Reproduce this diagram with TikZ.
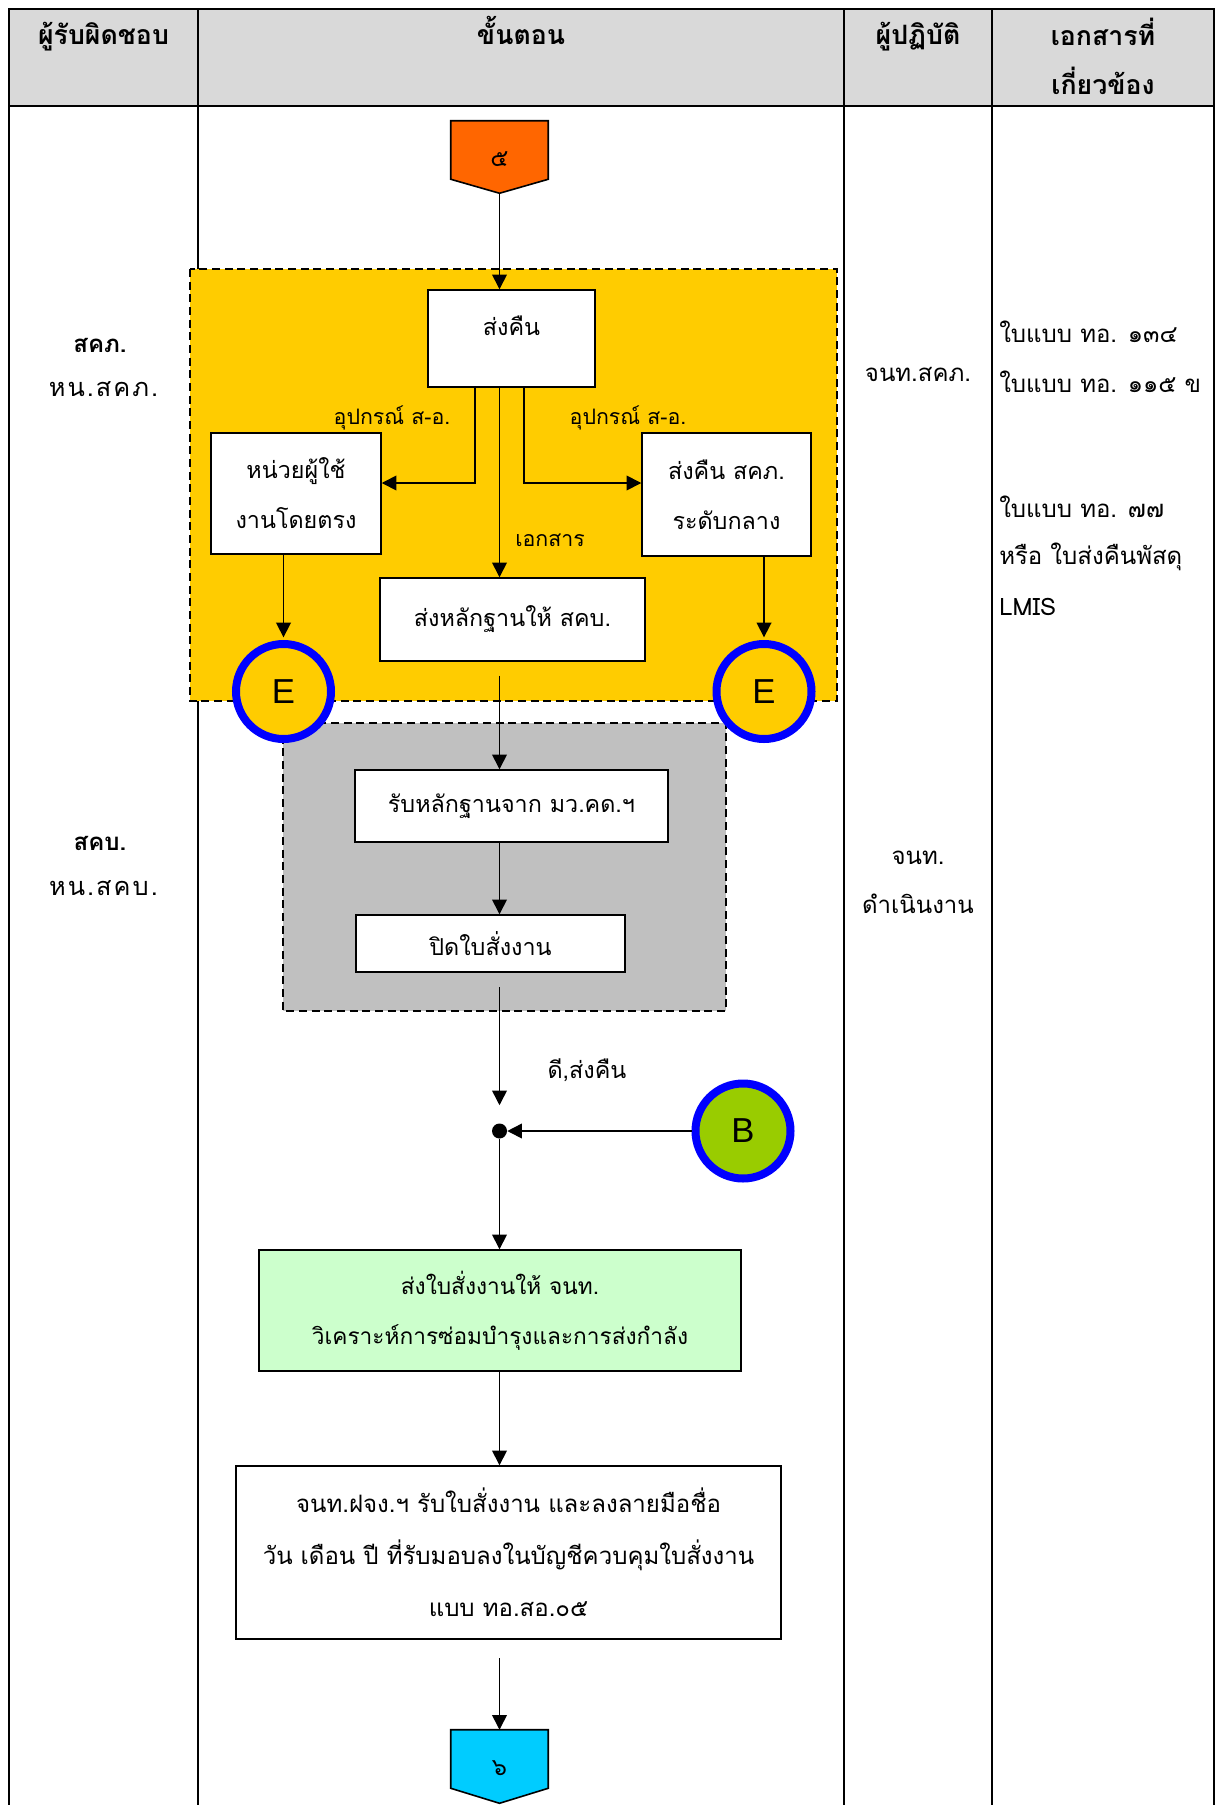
\documentclass[tikz,border=0pt]{standalone}
\usepackage{fontspec}
\setmainfont{Loma}[Script=Thai]
\newfontfamily\latinsans{Liberation Sans}
\newfontfamily\spacedthai{Loma}[Script=Thai,LetterSpace=8]
\usetikzlibrary{arrows.meta,calc}
\definecolor{hdrgray}{HTML}{D9D9D9}
\definecolor{ylw}{HTML}{FFCC00}
\definecolor{grayreg}{HTML}{C0C0C0}
\definecolor{orng}{HTML}{FF6600}
\definecolor{cyn}{HTML}{00CCFF}
\definecolor{lgreen}{HTML}{CCFFCC}
\definecolor{bgreen}{HTML}{99CC00}
\newcommand\myboxfont{\fontsize{17.5}{37.5}\selectfont}
\newcommand\mylblfont{\fontsize{16}{20}\selectfont}
\newcommand\mycolfont{\fontsize{18}{22}\selectfont}
\newcommand\myleftfont{\spacedthai\fontsize{19}{22}\selectfont}
\newcommand\myleftbold{\fontsize{18}{22}\selectfont\bfseries}
\newcommand\myhdfont{\fontsize{20}{22}\selectfont\bfseries}
\begin{document}
\begin{tikzpicture}[x=0.75pt,y=-0.75pt,
  tbl/.style={line width=1.6pt},
  region/.style={line width=1.1pt, dash pattern=on 6pt off 3.5pt},
  box/.style={draw=black, line width=1.1pt, fill=white, inner sep=0pt, font=\myboxfont, align=center},
  arr/.style={-{Triangle[length=11pt,width=11pt]}, line width=1.2pt},
  circ/.style={circle, draw=blue, line width=6pt, minimum size=71.25pt, inner sep=0pt, font=\latinsans\fontsize{26}{26}\selectfont},
  hd/.style={font=\myhdfont, inner sep=0pt, anchor=base},
  coltxt/.style={font=\mycolfont, inner sep=0pt},
  lefttxt/.style={font=\myleftfont, inner sep=0pt},
  lbl/.style={font=\mylblfont, inner sep=0pt},
  pent/.style={line width=1.2pt}
]
\useasboundingbox (0,0) rectangle (1220,1805);
% table
\fill[hdrgray] (9,9) rectangle (1214,106);
\draw[tbl] (9,1805) -- (9,9) -- (1214,9) -- (1214,1805);
\draw[tbl] (9,106) -- (1214,106);
\draw[tbl] (198,9) -- (198,1805);
\draw[tbl] (844,9) -- (844,1805);
\draw[tbl] (992,9) -- (992,1805);
% header
\node[hd] (h1) at (103.5,45) {ผู้รับผิดชอบ};
\node[hd] (h2) at (521,45) {ขั้นตอน};
\node[hd] (h3) at (918,45) {ผู้ปฏิบัติ};
\node[hd] (h4) at (1103,46) {เอกสารที่};
\node[hd] (h4b) at (1103,95) {เกี่ยวข้อง};
% left column
\node[lefttxt,font=\myleftbold] (c1a) at (100,345) {สคภ.};
\node[lefttxt] (c1b) at (103.5,389) {หน.สคภ.};
\node[lefttxt,font=\myleftbold] (c1c) at (100,843) {สคบ.};
\node[lefttxt] (c1d) at (103.5,888) {หน.สคบ.};
% col3
\node[coltxt] (c3a) at (918,374) {จนท.สคภ.};
\node[coltxt] (c3b) at (918,858) {จนท.};
\node[coltxt] (c3c) at (918,904) {ดำเนินงาน};
% col4
\node[coltxt,anchor=west] (c4a) at (999,332) {ใบแบบ ทอ. ๑๓๔};
\node[coltxt,anchor=west] (c4b) at (999,382) {ใบแบบ ทอ. ๑๑๕ ข};
\node[coltxt,anchor=west] (c4c) at (999,507) {ใบแบบ ทอ. ๗๗};
\node[coltxt,anchor=west] (c4d) at (999,557) {หรือ ใบส่งคืนพัสดุ};
\node[coltxt,anchor=west] (c4e) at (999,607) {LMIS};
% regions
\filldraw[region, fill=ylw] (190,269) rectangle (837,701);
\filldraw[region, fill=grayreg] (283,723) rectangle (726,1011);
% pentagon 5
\node[minimum width=72.75pt, minimum height=54pt, inner sep=0pt] (p5) at (499.5,157) {};
\filldraw[pent, fill=orng] (p5.north west) -- (p5.north east) -- ($(p5.south east)+(0,-14)$) -- (p5.south) -- ($(p5.south west)+(0,-14)$) -- cycle;
\node[font=\fontsize{18}{18}\selectfont, inner sep=0pt] (p5t) at ($(p5.center)+(0,2)$) {๕};
% boxes
\node[box, minimum width=125.25pt, minimum height=72.75pt] (sk) at (511.5,338.5) {};
\node[font=\myboxfont, inner sep=0pt] (skt) at (511.5,326) {ส่งคืน};
\node[box, minimum width=127.5pt, minimum height=90.75pt] (unit) at (296,493.5) {หน่วยผู้ใช้\\งานโดยตรง};
\node[box, minimum width=126.75pt, minimum height=92.25pt] (rt) at (726.5,494.5) {ส่งคืน สคภ.\\ระดับกลาง};
\node[box, minimum width=198.75pt, minimum height=62.25pt] (doc) at (512.5,619.5) {ส่งหลักฐานให้ สคบ.};
\node[box, minimum width=234.75pt, minimum height=54pt] (get) at (511.5,806) {รับหลักฐานจาก มว.คด.ฯ};
\node[box, minimum width=201.75pt, minimum height=42.75pt] (close) at (490.5,943.5) {ปิดใบสั่งงาน};
\node[box, fill=lgreen, minimum width=361.5pt, minimum height=90.75pt, font=\fontsize{17}{37.5}\selectfont] (green) at (500,1310.5) {ส่งใบสั่งงานให้ จนท.\\วิเคราะห์การซ่อมบำรุงและการส่งกำลัง};
\node[box, minimum width=408.75pt, minimum height=129.75pt, font=\fontsize{18}{39}\selectfont] (big) at (508.5,1552.5) {จนท.ฝจง.ฯ รับใบสั่งงาน และลงลายมือชื่อ\\วัน เดือน ปี ที่รับมอบลงในบัญชีควบคุมใบสั่งงาน\\แบบ ทอ.สอ.๐๕};
% labels
\node[lbl] (l1) at (392,418) {อุปกรณ์ ส-อ.};
\node[lbl] (l2) at (628,418) {อุปกรณ์ ส-อ.};
\node[lbl] (l3) at (550,540) {เอกสาร};
\node[lbl,font=\fontsize{17.5}{20}\selectfont] (l4) at (587,1070) {ดี,ส่งคืน};
% circles
\node[circ, fill=ylw] (e1) at (283.5,691.5) {E};
\node[circ, fill=ylw] (e2) at (764,691.5) {E};
\node[circ, fill=bgreen] (bb) at (743,1131) {B};
\node[circle, fill=black, inner sep=0pt, minimum size=11.25pt] (dot) at (499.5,1131) {};
% pentagon 6
\node[minimum width=72.75pt, minimum height=54.75pt, inner sep=0pt] (p6) at (499.5,1766.5) {};
\filldraw[pent, fill=cyn] (p6.north west) -- (p6.north east) -- ($(p6.south east)+(0,-15)$) -- (p6.south) -- ($(p6.south west)+(0,-15)$) -- cycle;
\node[font=\fontsize{18}{18}\selectfont, inner sep=0pt] (p6t) at ($(p6.center)+(0,2)$) {๖};
% connectors
\draw[arr] (p5.south) -- (p5.south |- sk.north);
\draw[arr] ($(p5.south |- sk.south)+(-24.5,0)$) |- ($(unit.east)+(0,-10.5)$);
\draw[arr] ($(p5.south |- sk.south)+(24.5,0)$) |- ($(rt.west)+(0,-11.5)$);
\draw[arr] (p5.south |- sk.south) -- (p5.south |- doc.north);
\draw[arr] (e1 |- unit.south) -- ([yshift=2pt]e1.north);
\draw[arr] (e2 |- rt.south) -- ([yshift=2pt]e2.north);
\draw[arr, shorten <=10.5pt] (p5.south |- doc.south) -- (p5.south |- get.north);
\draw[arr] (p5.south |- get.south) -- (p5.south |- close.north);
\draw[arr, shorten <=11pt, shorten >=13.5pt] (p5.south |- close.south) -- (dot.north);
\draw[arr] (bb.west) -- (dot.east);
\draw[arr] (dot.south) -- (dot |- green.north);
\draw[arr] (dot |- green.south) -- (dot |- big.north);
\draw[arr, shorten <=14pt] (p6 |- big.south) -- (p6.north);
\end{tikzpicture}
\end{document}
